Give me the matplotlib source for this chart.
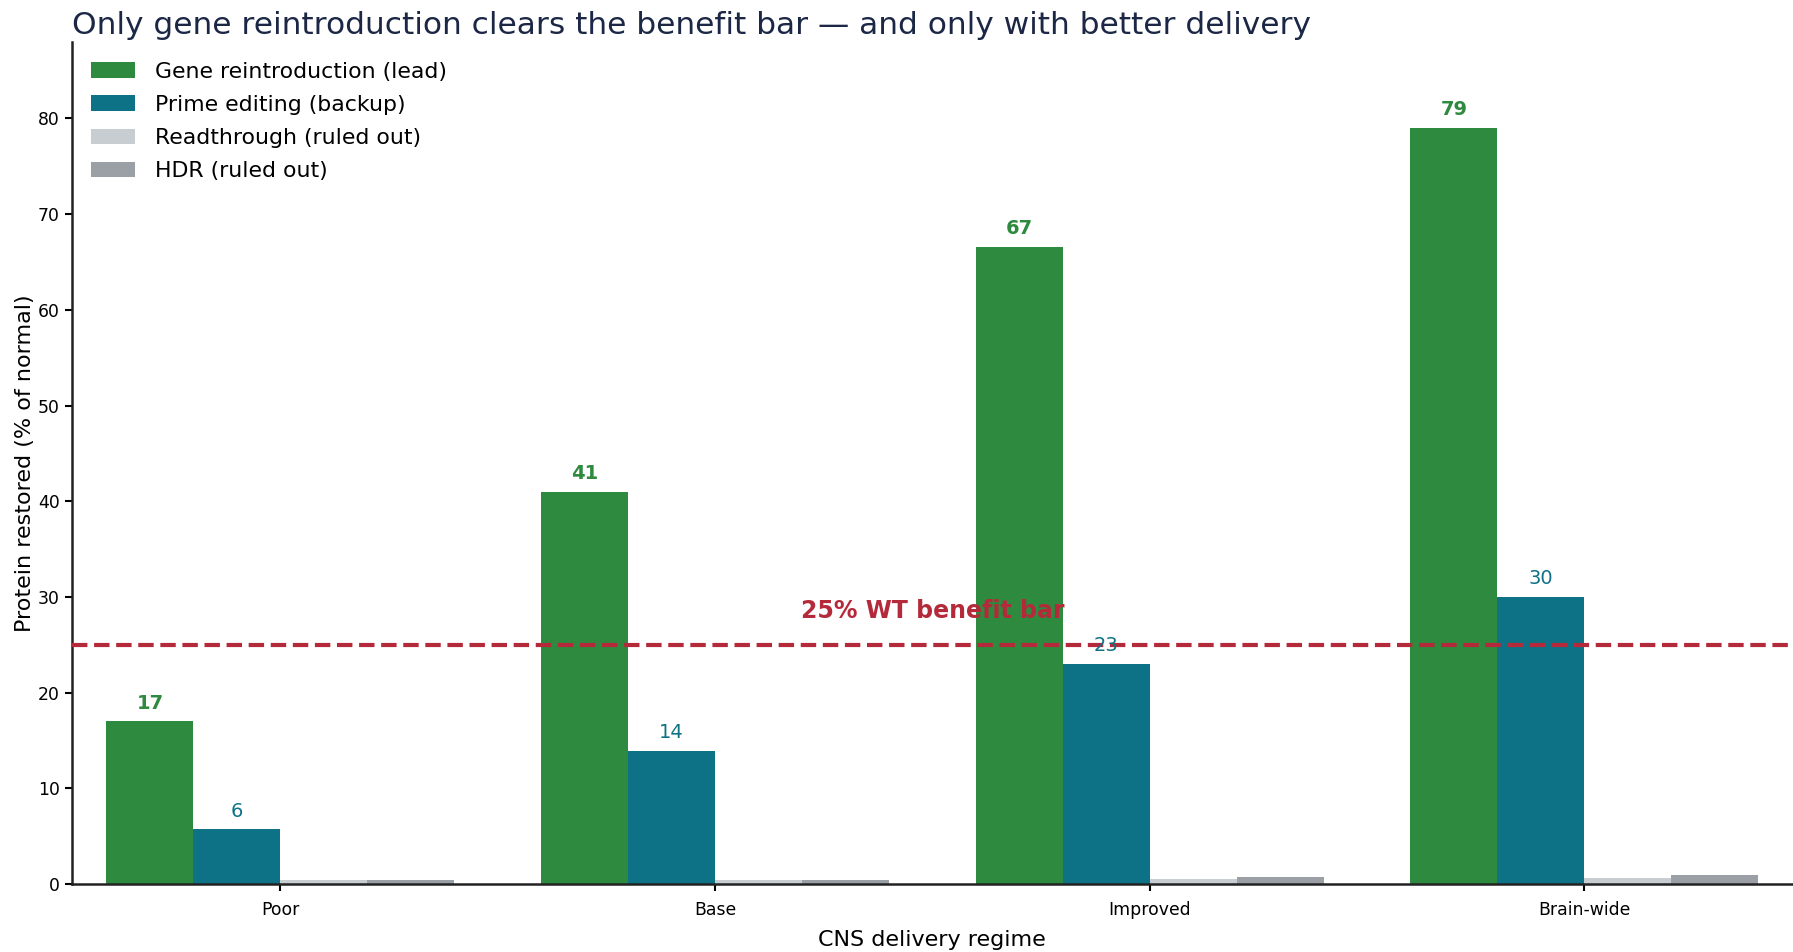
import numpy as np
import matplotlib
matplotlib.use('Agg')
import matplotlib.pyplot as plt

# Data
regimes = ['Poor', 'Base', 'Improved', 'Brain-wide']
gene = [17, 41, 66.6, 79]
prime = [5.7, 13.9, 23, 30]
readthrough = [0.4, 0.4, 0.5, 0.6]
hdr = [0.4, 0.4, 0.7, 0.9]
series_names = ['Gene reintroduction (lead)', 'Prime editing (backup)',
                'Readthrough (ruled out)', 'HDR (ruled out)']
threshold = 25

colors = ['#2e8a3f', '#0d7285', '#c8cdd1', '#9aa0a6']
red = '#b52a3a'

fig, ax = plt.subplots(figsize=(17.93, 9.52), dpi=100)
fig.subplots_adjust(left=0.040, right=1.0, bottom=0.0714, top=0.956)

x = np.arange(len(regimes))
w = 0.2
all_series = [gene, prime, readthrough, hdr]
offsets = [-1.5, -0.5, 0.5, 1.5]
for vals, off, col, name in zip(all_series, offsets, colors, series_names):
    ax.bar(x + off * w, vals, width=w, color=col, label=name, zorder=2)

# value labels for the two viable approaches
for xi, v in zip(x, gene):
    ax.text(xi - 1.5 * w, v + 0.9, f"{v:.0f}", ha='center', va='bottom',
            color=colors[0], fontsize=14, fontweight='bold', zorder=4)
for xi, v in zip(x, prime):
    ax.text(xi - 0.5 * w, v + 0.9, f"{v:.0f}", ha='center', va='bottom',
            color=colors[1], fontsize=14, zorder=4)

# benefit threshold
ax.axhline(threshold, color=red, linestyle='--', linewidth=3, zorder=3)
ax.text(1.5, threshold + 2.3, '25% WT benefit bar', ha='center', va='bottom',
        color=red, fontsize=17, fontweight='bold', zorder=5)

ax.set_xlim(-0.48, 3.48)
ax.set_ylim(0, 88)
ax.set_yticks(np.arange(0, 90, 10))
ax.set_xticks(x)
ax.set_xticklabels(regimes)
ax.tick_params(axis='both', labelsize=12.4, length=5, width=1.5)
ax.tick_params(axis='x', pad=7)

ax.spines['top'].set_visible(False)
ax.spines['right'].set_visible(False)
for s in ['left', 'bottom']:
    ax.spines[s].set_linewidth(1.8)
    ax.spines[s].set_color('#222222')

ax.set_xlabel('CNS delivery regime', fontsize=16, labelpad=8)
ax.set_ylabel('Protein restored (% of normal)', fontsize=16, labelpad=2)
ax.set_title('Only gene reintroduction clears the benefit bar \u2014 and only with better delivery',
             loc='left', fontsize=22.5, color='#1b2745')

ax.legend(loc='upper left', frameon=False, fontsize=15.8, handlelength=2.0,
          handletextpad=0.9, labelspacing=0.6, borderaxespad=0.5)

fig.savefig('out.png', dpi=100)
